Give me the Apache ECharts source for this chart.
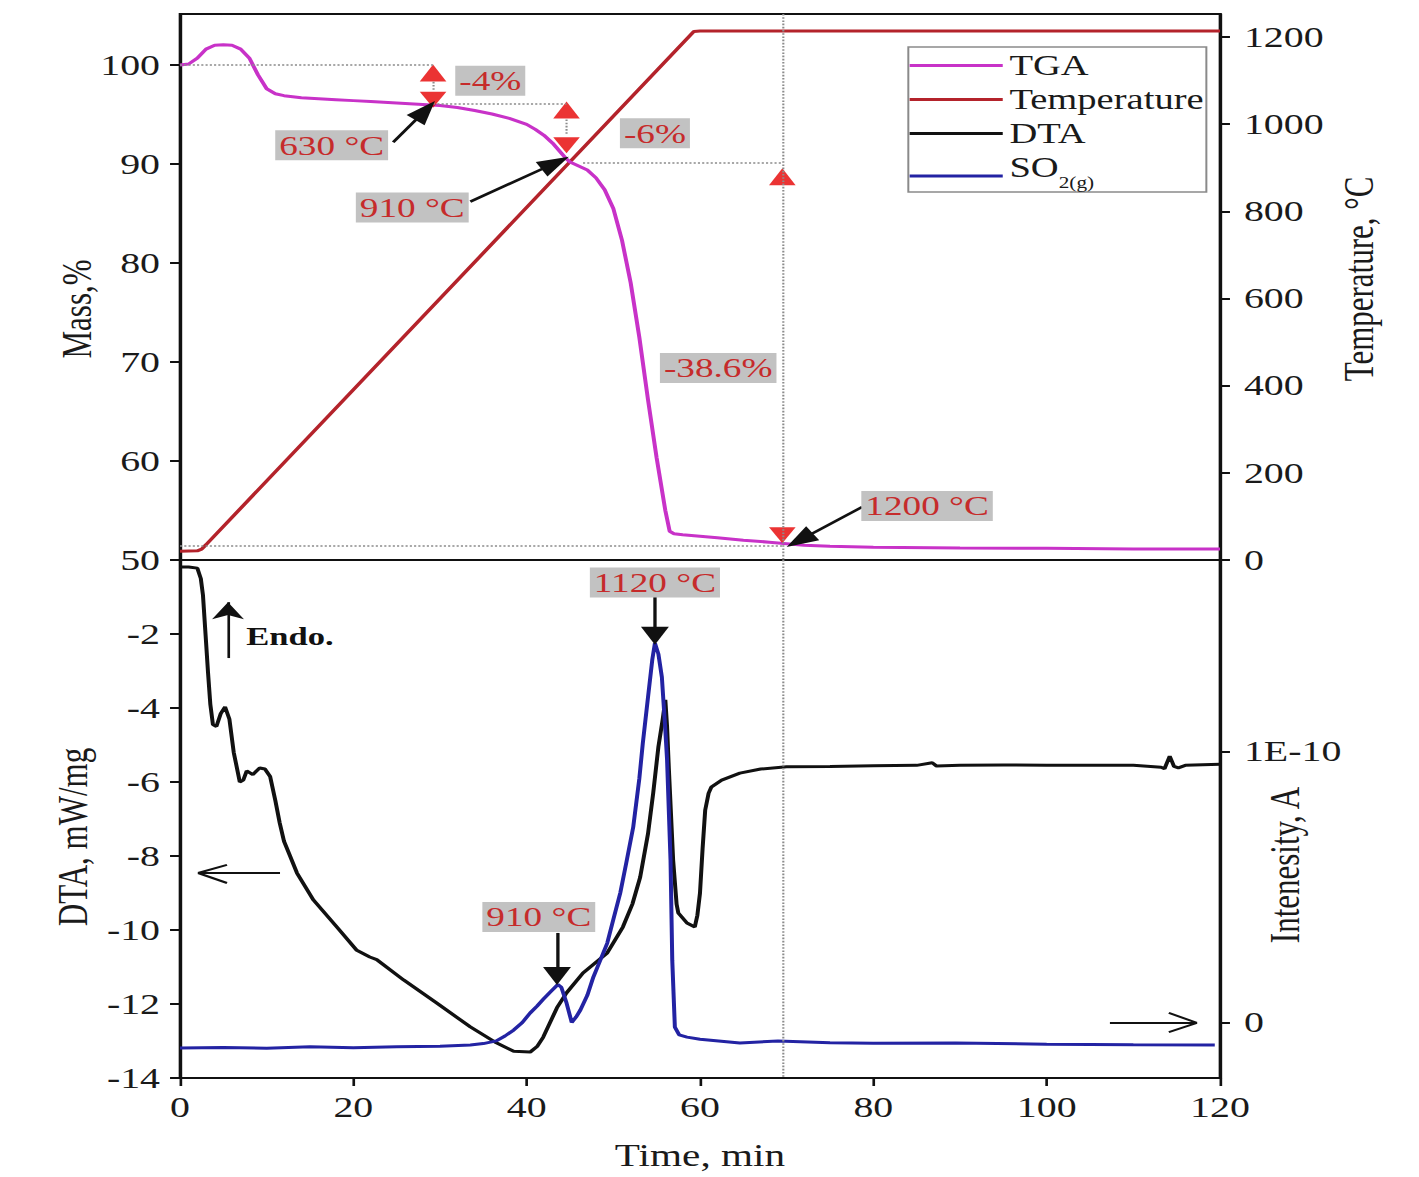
<!DOCTYPE html>
<html>
<head>
<meta charset="utf-8">
<script src="https://cdn.jsdelivr.net/npm/echarts@6/dist/echarts.min.js"></script>
<style>
html,body{margin:0;padding:0;background:#fff;overflow:hidden;}
#chart{width:1067px;height:1177px;transform:scaleX(1.32990);transform-origin:0 0;}
</style>
</head>
<body>
<div id="chart"></div>
<script>
// ---------------- data ----------------
const tgaTime = [0,1,2,3,4,5,6,7,8,9,10,11,12,14,16,18,20,22,24,26,28,30,32,34,36,38,40,41,42,43,44,44.6,45,46,47,48,49,50,51,52,53,54,55,56,56.5,57,58,60,62,65,68,70,72,75,80,90,100,110,120];
const tgaMass = [100,100.1,100.7,101.6,102.0,102.05,102.0,101.6,100.7,99.0,97.6,97.1,96.9,96.7,96.6,96.5,96.4,96.3,96.2,96.1,96.0,95.9,95.7,95.4,95.05,94.6,94.0,93.5,92.9,92.1,91.1,90.5,90.2,89.8,89.4,88.6,87.4,85.5,82.3,78.0,72.5,66.2,60.3,55.0,52.9,52.65,52.55,52.4,52.25,52.0,51.8,51.65,51.5,51.4,51.3,51.22,51.18,51.12,51.1];

const tempTime = [0,2,2.5,3,59.3,60,120];
const tempValue = [20,21,25,35,1213,1214,1214];

const dtaTime = [0,1,2,2.4,2.65,3.0,3.23,3.5,3.8,4.2,4.7,5.2,5.7,6.2,6.9,7.3,7.7,8.4,9.2,9.8,10.4,11.0,11.5,12,12.7,13.5,15.4,18.1,20.4,21.9,22.7,25.8,29.6,33.5,36.5,38.5,40.4,41.2,41.9,42.7,43.5,44.6,46.5,49.3,51.1,52.2,53.1,54.0,54.6,55.2,55.7,56.0,56.2,56.4,56.9,57.3,57.5,58.5,59.4,59.7,60.0,60.3,60.6,61.0,61.3,62.5,64.6,67,70,75,80,85,86.8,87.3,90,95,100,105,110,113.2,113.6,114.2,114.7,115.2,116,120];
const dtaValue = [-0.19,-0.19,-0.22,-0.5,-0.95,-2.2,-3.03,-3.9,-4.45,-4.5,-4.15,-3.97,-4.3,-5.2,-6.0,-5.95,-5.7,-5.8,-5.62,-5.65,-5.85,-6.5,-7.1,-7.6,-8.0,-8.46,-9.19,-9.92,-10.55,-10.73,-10.8,-11.35,-11.97,-12.62,-13.05,-13.28,-13.3,-13.15,-12.9,-12.5,-12.1,-11.7,-11.16,-10.62,-9.92,-9.3,-8.57,-7.4,-6.3,-5.05,-4.3,-3.78,-4.5,-5.6,-8.11,-9.3,-9.54,-9.81,-9.92,-9.6,-9.0,-7.8,-6.76,-6.3,-6.14,-5.95,-5.76,-5.65,-5.59,-5.58,-5.56,-5.55,-5.48,-5.57,-5.55,-5.54,-5.55,-5.55,-5.55,-5.6,-5.64,-5.3,-5.58,-5.62,-5.55,-5.52];

// SO2 ion current in units of 1E-10 A
const so2Time = [0,5,10,15,20,25,30,33.5,35,36.5,37.5,38.5,39.5,40.4,41.2,41.9,42.8,43.6,44.0,44.6,45.2,45.7,46.2,47,47.7,48.5,49.3,50.0,50.8,51.5,52.3,53.0,53.4,54.0,54.5,54.8,55.2,55.6,56.0,56.2,56.6,56.8,57.1,57.6,58.5,60,64.6,69,75,80,89.5,100,110,119.4];
const so2Value = [-0.094,-0.092,-0.095,-0.09,-0.093,-0.09,-0.088,-0.083,-0.078,-0.068,-0.05,-0.028,0.0,0.035,0.06,0.085,0.115,0.14,0.13,0.072,0.0,0.02,0.046,0.1,0.168,0.23,0.293,0.38,0.478,0.59,0.722,0.9,1.03,1.2,1.34,1.40,1.36,1.275,1.08,0.97,0.6,0.23,-0.017,-0.046,-0.054,-0.062,-0.076,-0.068,-0.075,-0.077,-0.076,-0.08,-0.082,-0.083];

// tick labels
const timeTicks = [0,20,40,60,80,100,120];
const massTicks = [50,60,70,80,90,100];
const tempTicks = [0,200,400,600,800,1000,1200];
const dtaTicks = [-14,-12,-10,-8,-6,-4,-2];
const intTicks = [0,1];
const intTickLabels = ['0','1E-10'];

// annotations (data coordinates)
const triUp = [[29.2,99.2],[44.6,95.45],[69.5,88.7]];
const triDown = [[29.2,96.5],[44.6,91.9],[69.5,52.5]];
const guideTop = [[0,100,29.2,100],[29.2,96.1,44.6,96.1],[46.5,90.1,69.5,90.1],[0,51.4,69.5,51.4],[69.5,105.15,69.5,50],[29.2,98.3,29.2,97.4],[44.6,94.5,44.6,92.9]];
const guideBottom = [[69.5,0,69.5,-14]];
const arrowsTop = [[24.6,92.2,28.3,95.4],[33.5,86.2,43.3,90.1],[78.7,55.35,71.5,52.0]];
const arrowsBottom = [[54.8,-1.0,54.8,-2.05],[43.5,-10.08,43.5,-11.24]];
const endoArrow = [5.54,-2.65,5.54,-1.14];
const openArrows = [[11.54,-8.46,2.08,-8.46,5.42,-8.24,5.42,-8.73],[107.3,-12.51,117.34,-12.51,114.1,-12.24,114.1,-12.76]];
const labelsTop = [[35.8,98.4,'-4%'],[17.5,91.9,'630 °C'],[26.8,85.6,'910 °C'],[54.8,93.1,'-6%'],[62.1,69.4,'-38.6%'],[86.2,55.45,'1200 °C']];
const labelsBottom = [[54.8,-0.61,'1120 °C'],[41.4,-9.65,'910 °C']];
const endoLabel = [12.69,-2.08,'Endo.'];

// ---------------- chart ----------------
const SERIF = '"Liberation Serif","Times New Roman","DejaVu Serif",serif';
const zip = (a,b) => a.map((x,i) => [x,b[i]]);
const dotted = {type:'dotted', color:'#8c8c8c', width:1.6};
const solid = {type:'solid', color:'#111', width:2.5};
const thin = {type:'solid', color:'#111', width:2};

const guideLines = arr => arr.map(a => [
  {coord:[a[0],a[1]], symbol:'none', lineStyle:dotted},
  {coord:[a[2],a[3]], symbol:'none', lineStyle:dotted}]);
const arrowLines = (arr, sym, size, st) => arr.map(a => [
  {coord:[a[0],a[1]], symbol:'none', lineStyle:st || solid},
  {coord:[a[2],a[3]], symbol:sym, symbolSize:size, lineStyle:st || solid}]);
const openArrowLines = arr => {
  const out = [];
  const seg = (x1,y1,x2,y2) => [{coord:[x1,y1], symbol:'none', lineStyle:thin},{coord:[x2,y2], symbol:'none', lineStyle:thin}];
  arr.forEach(a => {
    out.push(seg(a[0],a[1],a[2],a[3]));
    out.push(seg(a[2],a[3],a[4],a[5]));
    out.push(seg(a[2],a[3],a[6],a[7]));
  });
  return out;
};
const boxLabel = a => ({coord:[a[0],a[1]], name:a[2]});

const axisLabelStyle = {fontFamily:SERIF, fontSize:30, color:'#1a1a1a'};
const axisNameStyle = {fontFamily:SERIF, fontSize:31, color:'#1a1a1a'};
const axLine = {show:true, onZero:false, lineStyle:{color:'#111', width:2}};

const chart = echarts.init(document.getElementById('chart'), null, {renderer:'svg'});
const option = {
  animation:false,
  backgroundColor:'#ffffff',
  grid:[
    {left:135.35, top:14, width:782, height:546, show:true, borderColor:'#111', borderWidth:2, backgroundColor:'transparent'},
    {left:135.35, top:560, width:782, height:518, show:true, borderColor:'#111', borderWidth:2, backgroundColor:'transparent'}
  ],
  legend:{
    data:['TGA','Temperature','DTA','SO2'],
    orient:'vertical', left:683, top:47,
    padding:[4,2,2,1], itemGap:5, itemWidth:70, itemHeight:3, icon:'rect',
    backgroundColor:'#fff', borderColor:'#8a8a8a', borderWidth:1.5, borderRadius:0,
    selectedMode:false,
    formatter: n => n === 'SO2' ? '{m|SO}{s|2(g)}' : n,
    textStyle:{fontFamily:SERIF, fontSize:29, color:'#1a1a1a', lineHeight:28,
      rich:{
        m:{fontFamily:SERIF, fontSize:29, color:'#1a1a1a', verticalAlign:'bottom', padding:[0,0,8,0]},
        s:{fontFamily:SERIF, fontSize:16, color:'#1a1a1a', verticalAlign:'bottom'}
      }}
  },
  xAxis:[
    {gridIndex:0, type:'value', position:'bottom', min:0, max:120, interval:20, axisLine:axLine,
     axisTick:{show:false}, axisLabel:{show:false}, splitLine:{show:false}},
    {gridIndex:1, type:'value', position:'bottom', min:0, max:120, interval:20, axisLine:axLine,
     axisTick:{show:true, inside:false, length:8, lineStyle:{color:'#111', width:2}},
     axisLabel:Object.assign({margin:14, customValues:timeTicks}, axisLabelStyle),
     splitLine:{show:false},
     name:'Time, min', nameLocation:'middle', nameGap:62, nameMoveOverlap:false, nameTextStyle:axisNameStyle}
  ],
  yAxis:[
    {gridIndex:0, type:'value', position:'left', min:50, max:105.15, axisLine:axLine,
     axisTick:{show:true, length:7.5, customValues:massTicks, lineStyle:{color:'#111', width:2}},
     axisLabel:Object.assign({margin:15, customValues:massTicks, formatter: v => String(v)}, axisLabelStyle),
     splitLine:{show:false},
     name:'Mass,%', nameLocation:'middle', nameRotate:90, nameGap:62, nameMoveOverlap:false,
     nameTextStyle:Object.assign({padding:[0,44,0,0]}, axisNameStyle)},
    {gridIndex:0, type:'value', position:'right', min:0, max:1253, axisLine:axLine,
     axisTick:{show:true, length:7.5, customValues:tempTicks, lineStyle:{color:'#111', width:2}},
     axisLabel:Object.assign({margin:18, customValues:tempTicks, formatter: v => String(v)}, axisLabelStyle),
     splitLine:{show:false},
     name:'Temperature, °C', nameLocation:'middle', nameRotate:90, nameGap:89, nameMoveOverlap:false,
     nameTextStyle:Object.assign({padding:[0,0,0,16]}, axisNameStyle)},
    {gridIndex:1, type:'value', position:'left', min:-14, max:0, axisLine:axLine,
     axisTick:{show:true, length:7.5, customValues:dtaTicks, lineStyle:{color:'#111', width:2}},
     axisLabel:Object.assign({margin:15, customValues:dtaTicks, formatter: v => String(v)}, axisLabelStyle),
     splitLine:{show:false},
     name:'DTA, mW/mg', nameLocation:'middle', nameRotate:90, nameGap:65, nameMoveOverlap:false,
     nameTextStyle:Object.assign({padding:[0,36,0,0]}, axisNameStyle)},
    {gridIndex:1, type:'value', position:'right', min:-0.205, max:1.707, axisLine:axLine,
     axisTick:{show:true, length:7.5, customValues:intTicks, lineStyle:{color:'#111', width:2}},
     axisLabel:Object.assign({margin:18, customValues:intTicks,
       formatter: v => intTickLabels[intTicks.indexOf(Math.round(v))] }, axisLabelStyle),
     splitLine:{show:false},
     name:'Intenesity, A', nameLocation:'middle', nameRotate:90, nameGap:34, nameMoveOverlap:false,
     nameTextStyle:Object.assign({padding:[0,92,0,0]}, axisNameStyle)}
  ],
  series:[
    {name:'Temperature', type:'line', xAxisIndex:0, yAxisIndex:1, data:zip(tempTime,tempValue),
     symbol:'none', lineStyle:{color:'#b4232b', width:3}, itemStyle:{color:'#b4232b'}, z:2},
    {name:'TGA', type:'line', xAxisIndex:0, yAxisIndex:0, data:zip(tgaTime,tgaMass),
     symbol:'none', lineStyle:{color:'#c832c8', width:3}, itemStyle:{color:'#c832c8'}, z:3,
     markLine:{silent:true, animation:false, label:{show:false}, symbol:['none','none'],
       data: guideLines(guideTop).concat(arrowLines(arrowsTop,'triangle',[17,24]))},
     markPoint:{silent:true, animation:false, symbol:'rect', symbolSize:1, itemStyle:{color:'rgba(0,0,0,0)'},
       label:{show:true, position:'inside', formatter:p => p.name, fontFamily:SERIF, fontSize:28,
         color:'#c62b2b', backgroundColor:'#c2c2c2', padding:[2,3,0,3]},
       data: labelsTop.map(boxLabel)}},
    {name:'upMarks', type:'scatter', xAxisIndex:0, yAxisIndex:0, data:triUp,
     symbol:'triangle', symbolSize:[20,17], itemStyle:{color:'#e60000'}, z:4, silent:true},
    {name:'downMarks', type:'scatter', xAxisIndex:0, yAxisIndex:0, data:triDown,
     symbol:'triangle', symbolRotate:180, symbolSize:[20,16], itemStyle:{color:'#e60000'}, z:4, silent:true},
    {name:'DTA', type:'line', xAxisIndex:1, yAxisIndex:2, data:zip(dtaTime,dtaValue),
     symbol:'none', lineStyle:{color:'#111111', width:3}, itemStyle:{color:'#111111'}, z:3,
     markLine:{silent:true, animation:false, label:{show:false}, symbol:['none','none'],
       data: guideLines(guideBottom)
         .concat(arrowLines(arrowsBottom,'triangle',[21,18]))
         .concat(arrowLines([endoArrow],'arrow',[18,17], thin))
         .concat(openArrowLines(openArrows))},
     markPoint:{silent:true, animation:false, symbol:'rect', symbolSize:1, itemStyle:{color:'rgba(0,0,0,0)'},
       label:{show:true, position:'inside', formatter:p => p.name, fontFamily:SERIF, fontSize:28,
         color:'#c62b2b', backgroundColor:'#c2c2c2', padding:[2,3,0,3]},
       data: labelsBottom.map(boxLabel).concat([{coord:[endoLabel[0],endoLabel[1]], name:endoLabel[2],
         label:{color:'#111', backgroundColor:'transparent', fontWeight:'bold', fontSize:26, padding:0}}])}},
    {name:'SO2', type:'line', xAxisIndex:1, yAxisIndex:3, data:zip(so2Time,so2Value),
     symbol:'none', lineStyle:{color:'#2323a3', width:3}, itemStyle:{color:'#2323a3'}, z:4}
  ]
};
chart.setOption(option);
</script>
</body>
</html>
